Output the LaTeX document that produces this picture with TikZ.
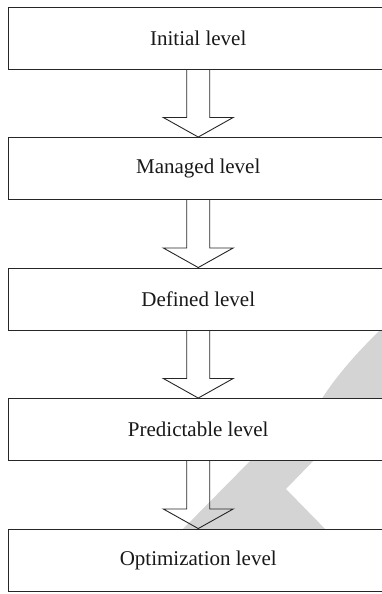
\documentclass[tikz,border=0pt]{standalone}
\usepackage{fontspec}
\setmainfont{Liberation Serif}
\usetikzlibrary{calc}

\definecolor{markgray}{RGB}{212,212,212}
\tikzset{
  levelbox/.style={draw=black!85, line width=0.9pt, fill=white, text=black!90,
    minimum width=379.5pt, minimum height=62pt, inner sep=0pt,
    font=\fontsize{21}{25}\selectfont},
  blockarrow/.style={draw=black!85, line width=0.9pt, line join=miter},
}
% hollow block arrow from the bottom of #1 to the top of #2
\newcommand{\levelarrow}[2]{%
  \draw[blockarrow] ($(#1.south)+(-11.5,0)$) -- ++(0,48) -- ++(-23.5,0)
    -- (#2.north) -- ($(#1.south)+(35,48)$) -- ++(-23.5,0) -- ++(0,-48);}

\begin{document}
\begin{tikzpicture}[x=1pt,y=-1pt]
    \useasboundingbox (0,0) rectangle (382,594);
    \clip (0,0) rectangle (382,594);

    % grey mark in the background
    \fill[markgray] (384,326) .. controls (362,348) and (340,370) .. (319,403)
        -- (390,403) -- (390,326) -- cycle;
    \fill[markgray] (256,455) -- (319,455) -- (286,489) -- (331,535)
        -- (177,535) -- cycle;

    \node[levelbox] (initial) at (198.25,38) {Initial level};
    \node[levelbox] (managed) at (198.25,168.5) {Managed level};
    \node[levelbox] (defined) at (198.25,299) {Defined level};
    \node[levelbox] (predictable) at (198.25,429.5) {Predictable level};
    \node[levelbox] (optimization) at (198.25,560) {Optimization level};

    \levelarrow{initial}{managed}
    \levelarrow{managed}{defined}
    \levelarrow{defined}{predictable}
    \levelarrow{predictable}{optimization}

\end{tikzpicture}
\end{document}
